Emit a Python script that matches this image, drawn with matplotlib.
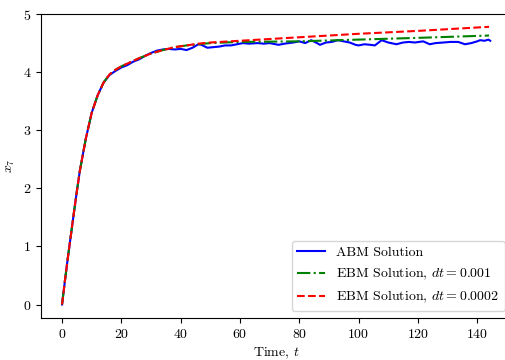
import matplotlib
matplotlib.use("Agg")
import matplotlib.pyplot as plt

plt.rcParams['font.family'] = 'serif'
plt.rcParams['font.serif'] = ['cmr10']
plt.rcParams['mathtext.fontset'] = 'cm'
plt.rcParams['axes.formatter.use_mathtext'] = True
plt.rcParams['font.size'] = 10

# ABM solution
t_abm = [0, 1, 2, 3, 4, 5, 6, 8, 10, 12, 14, 16, 18, 20, 22, 24, 26, 28, 30, 32,
         34, 36, 38, 40, 42, 44, 46, 47, 49, 51, 53, 55, 57, 59, 61, 63, 66, 68,
         70, 72, 73, 75, 78, 80, 82, 84, 86, 87, 89, 91, 93, 95, 97, 99, 100,
         102, 104, 105.5, 107.8, 110, 112.8, 115, 117, 119, 121.8, 124, 126,
         128.6, 131, 133.6, 135.9, 138, 140, 141, 142.5, 143.8, 144.4]
x_abm = [0, 0.42, 0.82, 1.2, 1.58, 1.95, 2.3, 2.85, 3.3, 3.6, 3.82, 3.95, 4.02,
         4.08, 4.12, 4.18, 4.22, 4.28, 4.33, 4.37, 4.39, 4.40, 4.39, 4.40, 4.38,
         4.42, 4.48, 4.47, 4.42, 4.43, 4.44, 4.46, 4.46, 4.48, 4.50, 4.49, 4.50,
         4.49, 4.50, 4.48, 4.47, 4.49, 4.51, 4.53, 4.50, 4.55, 4.50, 4.47, 4.51,
         4.52, 4.55, 4.53, 4.51, 4.47, 4.46, 4.48, 4.47, 4.46, 4.55, 4.51, 4.48,
         4.51, 4.52, 4.51, 4.53, 4.48, 4.50, 4.51, 4.52, 4.52, 4.48, 4.50, 4.53,
         4.55, 4.54, 4.56, 4.54]

# EBM solutions
t_ebm = [0, 1, 2, 3, 4, 5, 6, 8, 10, 12, 14, 16, 18, 20, 23, 26, 30, 34, 38,
         42, 46, 50, 60, 80, 100, 120, 144]
x_ebm1 = [0, 0.42, 0.82, 1.2, 1.58, 1.95, 2.3, 2.85, 3.3, 3.6, 3.82, 3.96, 4.04,
          4.1, 4.17, 4.24, 4.32, 4.38, 4.43, 4.46, 4.48, 4.50, 4.52, 4.53,
          4.56, 4.59, 4.63]
x_ebm2 = [0, 0.42, 0.82, 1.2, 1.58, 1.95, 2.3, 2.85, 3.3, 3.6, 3.82, 3.96, 4.04,
          4.1, 4.17, 4.24, 4.32, 4.38, 4.43, 4.46, 4.49, 4.51, 4.54, 4.60,
          4.66, 4.71, 4.78]

fig = plt.figure(figsize=(5.06, 3.6), dpi=100)
ax = fig.add_axes([0.081, 0.117, 0.93, 0.844])

ax.plot(t_abm, x_abm, color='b', lw=1.5, label='ABM Solution')
ax.plot(t_ebm, x_ebm1, color='g', lw=1.5, ls='-.', label='EBM Solution, $dt = 0.001$')
ax.plot(t_ebm, x_ebm2, color='r', lw=1.5, ls='--', label='EBM Solution, $dt = 0.0002$')

ax.set_xlim(-7.1, 151.6)
ax.set_ylim(-0.23, 5)
ax.set_xticks([0, 20, 40, 60, 80, 100, 120, 140])
ax.set_yticks([0, 1, 2, 3, 4, 5])
ax.set_xlabel('Time, $t$')
ax.set_ylabel('$x_7$')
ax.legend(loc='lower right')

fig.savefig('out.png', dpi=100)
